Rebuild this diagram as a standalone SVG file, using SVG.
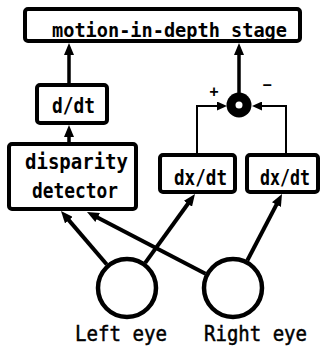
<svg xmlns="http://www.w3.org/2000/svg" width="323" height="347" viewBox="0 0 323 347">
<style>
.box{fill:#fff;stroke:#000;stroke-width:4;}
.t{font-family:"DejaVu Sans Mono","Liberation Mono",monospace;fill:#000;font-weight:bold;}
.e{font-family:"DejaVu Sans Mono","Liberation Mono",monospace;fill:#000;stroke:#000;stroke-width:0.5;}
.thick{stroke:#000;stroke-width:4;fill:none;}
.mid{stroke:#000;stroke-width:3.5;fill:none;}
.thin{stroke:#000;stroke-width:2;fill:none;}
.eye{fill:#fff;stroke:#000;stroke-width:4.5;}
</style>
<defs>
<marker id="big" viewBox="0 0 12 10" markerWidth="12" markerHeight="10" refX="4" refY="5" orient="auto" markerUnits="userSpaceOnUse">
<path d="M0,0 L12,5 L0,10 z" fill="#000"/>
</marker>
<marker id="small" viewBox="0 0 10 9" markerWidth="10" markerHeight="9" refX="7" refY="4.5" orient="auto" markerUnits="userSpaceOnUse">
<path d="M0,0 L10,4.5 L0,9 z" fill="#000"/>
</marker>
</defs>
<g id="connectors">
<line class="mid" x1="69" y1="83" x2="69" y2="51" marker-end="url(#big)"/>
<line class="mid" x1="69" y1="142" x2="69" y2="133" marker-end="url(#big)"/>
<line class="mid" x1="239" y1="95" x2="239" y2="51" marker-end="url(#big)"/>
<path class="thin" d="M197,155 V106 H224" marker-end="url(#small)"/>
<path class="thin" d="M286,155 V106 H255" marker-end="url(#small)"/>
<line class="thick" x1="106.8" y1="264.5" x2="66.2" y2="217.1" marker-end="url(#big)"/>
<line class="thick" x1="205.5" y1="273.7" x2="94.1" y2="215.7" marker-end="url(#big)"/>
<line class="thick" x1="145.2" y1="262.9" x2="190.3" y2="200.5" marker-end="url(#big)"/>
<line class="thick" x1="247.3" y1="260.5" x2="278.3" y2="201.1" marker-end="url(#big)"/>
</g>
<g id="motion-in-depth-stage">
<rect class="box" x="25" y="9" width="275" height="32" rx="3"/>
<text class="t" x="52" y="37" font-size="20" textLength="235" lengthAdjust="spacingAndGlyphs">motion-in-depth stage</text>
</g>
<g id="d-dt">
<rect class="box" x="37" y="85" width="70" height="38" rx="3"/>
<text class="t" x="52" y="113" font-size="22" textLength="43" lengthAdjust="spacingAndGlyphs">d/dt</text>
</g>
<g id="disparity-detector">
<rect class="box" x="9" y="144" width="127" height="65" rx="3"/>
<text class="t" x="25" y="169" font-size="22" textLength="103" lengthAdjust="spacingAndGlyphs">disparity</text>
<text class="t" x="32" y="198" font-size="22" textLength="86" lengthAdjust="spacingAndGlyphs">detector</text>
</g>
<g id="dxdt-left">
<rect class="box" x="160" y="155" width="75" height="37" rx="3"/>
<text class="t" x="174" y="185" font-size="21" textLength="53" lengthAdjust="spacingAndGlyphs">dx/dt</text>
</g>
<g id="dxdt-right">
<rect class="box" x="247" y="155" width="71" height="37" rx="3"/>
<text class="t" x="260" y="185" font-size="21" textLength="50" lengthAdjust="spacingAndGlyphs">dx/dt</text>
</g>
<g id="summing-junction">
<circle cx="239" cy="105" r="12.5" fill="#000"/>
<circle cx="239" cy="105" r="3.5" fill="#fff"/>
<text class="t" x="214" y="97" font-size="15" text-anchor="middle">+</text>
<text class="t" x="267" y="90" font-size="15" text-anchor="middle">−</text>
</g>
<g id="left-eye">
<circle class="eye" cx="127" cy="288" r="29"/>
<text class="e" x="75" y="341" font-size="22" textLength="92" lengthAdjust="spacingAndGlyphs">Left eye</text>
</g>
<g id="right-eye">
<circle class="eye" cx="233" cy="288" r="29"/>
<text class="e" x="204" y="341" font-size="22" textLength="103" lengthAdjust="spacingAndGlyphs">Right eye</text>
</g>
</svg>
